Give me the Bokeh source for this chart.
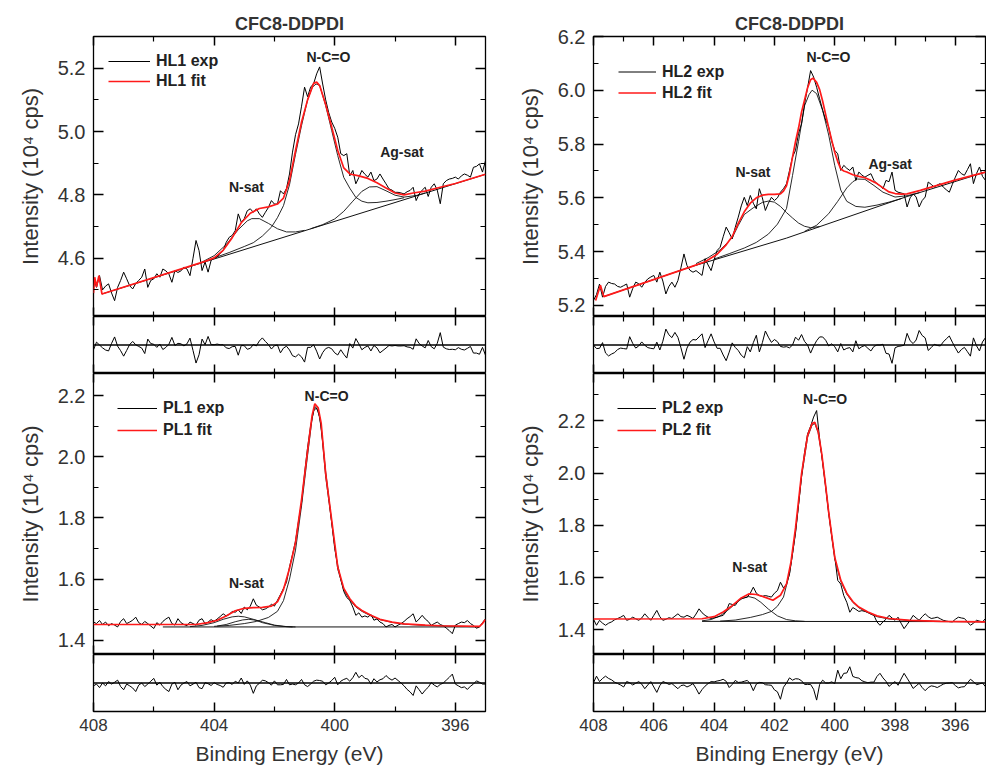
from bokeh.plotting import figure
from bokeh.layouts import column, row
from bokeh.models import (Range1d, FixedTicker, LinearAxis, Legend, LegendItem, Label, Span,
                          PrintfTickFormatter, CustomLabelingPolicy)
from bokeh.embed import file_html
from bokeh.resources import INLINE

FONT = "Liberation Sans"
GREY = "#333333"

# ---------------- data ----------------
BE = [408.0, 407.9, 407.8, 407.7, 407.6, 407.5, 407.4, 407.3, 407.2, 407.1,
      407.0, 406.9, 406.8, 406.7, 406.6, 406.5, 406.4, 406.3, 406.2, 406.1,
      406.0, 405.9, 405.8, 405.7, 405.6, 405.5, 405.4, 405.3, 405.2, 405.1,
      405.0, 404.9, 404.8, 404.7, 404.6, 404.5, 404.4, 404.3, 404.2, 404.1,
      404.0, 403.9, 403.8, 403.7, 403.6, 403.5, 403.4, 403.3, 403.2, 403.1,
      403.0, 402.9, 402.8, 402.7, 402.6, 402.5, 402.4, 402.3, 402.2, 402.1,
      402.0, 401.9, 401.8, 401.7, 401.6, 401.5, 401.4, 401.3, 401.2, 401.1,
      401.0, 400.9, 400.8, 400.7, 400.6, 400.5, 400.4, 400.3, 400.2, 400.1,
      400.0, 399.9, 399.8, 399.7, 399.6, 399.5, 399.4, 399.3, 399.2, 399.1,
      399.0, 398.9, 398.8, 398.7, 398.6, 398.5, 398.4, 398.3, 398.2, 398.1,
      398.0, 397.9, 397.8, 397.7, 397.6, 397.5, 397.4, 397.3, 397.2, 397.1,
      397.0, 396.9, 396.8, 396.7, 396.6, 396.5, 396.4, 396.3, 396.2, 396.1,
      396.0, 395.9, 395.8, 395.7, 395.6, 395.5, 395.4, 395.3, 395.2, 395.1,
      395.0]

# ---- HL1 (top left) ----
HL1_EXP = [4.540, 4.508, 4.545, 4.500, 4.512, 4.519, 4.490, 4.466, 4.508, 4.530,
           4.556, 4.535, 4.513, 4.503, 4.520, 4.530, 4.540, 4.566, 4.508, 4.530,
           4.535, 4.551, 4.540, 4.566, 4.560, 4.550, 4.524, 4.561, 4.555, 4.560,
           4.572, 4.566, 4.545, 4.600, 4.656, 4.624, 4.561, 4.588, 4.556, 4.593,
           4.600, 4.604, 4.615, 4.624, 4.650, 4.666, 4.672, 4.687, 4.740, 4.714,
           4.725, 4.750, 4.756, 4.745, 4.756, 4.740, 4.729, 4.745, 4.760, 4.782,
           4.771, 4.771, 4.813, 4.803, 4.820, 4.866, 4.935, 4.990, 5.024, 5.080,
           5.140, 5.110, 5.140, 5.151, 5.182, 5.204, 5.150, 5.100, 5.060, 5.030,
           5.010, 4.982, 4.930, 4.924, 4.930, 4.860, 4.877, 4.835, 4.855, 4.877,
           4.865, 4.856, 4.872, 4.845, 4.850, 4.866, 4.850, 4.835, 4.819, 4.815,
           4.808, 4.808, 4.806, 4.803, 4.810, 4.814, 4.824, 4.782, 4.803, 4.815,
           4.824, 4.795, 4.824, 4.835, 4.815, 4.772, 4.835, 4.845, 4.850, 4.852,
           4.856, 4.850, 4.860, 4.866, 4.862, 4.856, 4.887, 4.890, 4.898, 4.872,
           4.908]
HL1_RES = [-0.020, 0.012, 0.000, -0.012, -0.021, -0.025, 0.007, 0.034, -0.005, -0.024,
           -0.047, -0.023, 0.002, 0.015, 0.001, -0.006, -0.013, -0.036, 0.025, 0.006,
           0.003, -0.010, 0.004, -0.019, -0.010, 0.003, 0.032, -0.002, 0.007, 0.005,
           -0.004, 0.005, 0.029, -0.023, -0.076, -0.041, 0.025, 0.001, 0.036, 0.002,
           0.001, 0.004, 0.001, 0.001, -0.012, -0.015, -0.007, -0.006, -0.043, -0.002,
           -0.003, -0.018, -0.014, 0.002, -0.004, 0.017, 0.030, 0.015, 0.002, -0.017,
           -0.003, 0.000, -0.033, -0.013, -0.005, -0.021, -0.045, -0.050, -0.039, -0.050,
           -0.072, -0.010, -0.010, 0.001, -0.026, -0.059, -0.032, -0.015, -0.010, -0.016,
           -0.033, -0.042, -0.020, -0.039, -0.055, 0.006, -0.013, 0.027, 0.005, -0.020,
           -0.010, -0.004, -0.025, -0.002, -0.012, -0.033, -0.023, -0.013, -0.002, -0.004,
           -0.002, -0.004, -0.004, -0.003, -0.008, -0.010, -0.018, 0.026, 0.006, -0.004,
           -0.012, 0.019, -0.007, -0.016, 0.007, 0.052, -0.009, -0.016, -0.019, -0.018,
           -0.020, -0.011, -0.018, -0.021, -0.014, -0.006, -0.034, -0.034, -0.039, -0.010,
           -0.043]
HL1_FIT_X = [408.0, 407.96, 407.9, 407.82, 407.72, 404.3, 404.0, 403.7, 403.4, 403.1,
             402.8, 402.5, 402.2, 401.9, 401.7, 401.5, 401.3, 401.1, 400.9, 400.7,
             400.6, 400.5, 400.3, 400.1, 399.9, 399.7, 399.5, 399.2, 398.9, 398.6,
             398.3, 398.0, 397.7, 397.4, 397.0, 396.5, 396.0, 395.0]
HL1_FIT_Y = [4.490, 4.540, 4.510, 4.545, 4.487, 4.590, 4.601, 4.625, 4.665, 4.712,
             4.742, 4.757, 4.762, 4.771, 4.790, 4.845, 4.940, 5.030, 5.100, 5.152,
             5.156, 5.145, 5.085, 5.014, 4.940, 4.885, 4.866, 4.860, 4.852, 4.838,
             4.822, 4.806, 4.800, 4.806, 4.812, 4.824, 4.836, 4.865]
HL1_BG_X = [407.72, 395.0]
HL1_BG_Y = [4.487, 4.865]
HL1_NSAT_X = [404.4, 404.0, 403.6, 403.2, 402.9, 402.75, 402.5, 402.2, 401.9, 401.6, 401.3, 401.0]
HL1_NSAT_Y = [4.588, 4.608, 4.643, 4.690, 4.718, 4.725, 4.725, 4.710, 4.693, 4.683, 4.683, 4.688]
HL1_NCO_X = [404.0, 403.5, 403.0, 402.7, 402.4, 402.1, 401.9, 401.7, 401.5, 401.3,
             401.1, 400.9, 400.75, 400.62, 400.5, 400.3, 400.1, 399.9, 399.7, 399.5,
             399.3, 399.1, 398.9, 398.6, 398.3, 398.0, 397.7]
HL1_NCO_Y = [4.601, 4.618, 4.637, 4.649, 4.670, 4.698, 4.728, 4.766, 4.832, 4.928,
             5.019, 5.100, 5.139, 5.150, 5.146, 5.082, 5.003, 4.924, 4.855, 4.821,
             4.792, 4.780, 4.775, 4.776, 4.780, 4.785, 4.791]
HL1_AG_X = [400.8, 400.4, 400.0, 399.7, 399.4, 399.1, 398.85, 398.6, 398.3, 398.0, 397.7, 397.3, 397.0]
HL1_AG_Y = [4.693, 4.706, 4.724, 4.748, 4.780, 4.811, 4.825, 4.826, 4.813, 4.799, 4.793, 4.798, 4.806]

# ---- HL2 (top right) ----
HL2_EXP = [5.218, 5.240, 5.279, 5.230, 5.270, 5.286, 5.281, 5.279, 5.270, 5.267,
           5.273, 5.279, 5.230, 5.262, 5.286, 5.280, 5.267, 5.285, 5.298, 5.305,
           5.311, 5.286, 5.323, 5.290, 5.242, 5.270, 5.286, 5.267, 5.292, 5.340,
           5.391, 5.348, 5.330, 5.323, 5.329, 5.320, 5.311, 5.373, 5.350, 5.329,
           5.370, 5.404, 5.416, 5.455, 5.491, 5.470, 5.447, 5.490, 5.528, 5.570,
           5.602, 5.571, 5.609, 5.580, 5.559, 5.634, 5.600, 5.553, 5.580, 5.602,
           5.590, 5.600, 5.621, 5.634, 5.652, 5.702, 5.752, 5.777, 5.840, 5.876,
           5.950, 6.010, 6.074, 6.050, 6.012, 5.969, 5.926, 5.890, 5.864, 5.810,
           5.777, 5.764, 5.702, 5.721, 5.710, 5.702, 5.715, 5.665, 5.696, 5.685,
           5.677, 5.684, 5.690, 5.665, 5.653, 5.645, 5.634, 5.665, 5.660, 5.696,
           5.628, 5.621, 5.618, 5.615, 5.566, 5.600, 5.615, 5.603, 5.566, 5.590,
           5.603, 5.659, 5.650, 5.640, 5.648, 5.653, 5.640, 5.630, 5.621, 5.650,
           5.677, 5.702, 5.690, 5.684, 5.705, 5.727, 5.653, 5.690, 5.715, 5.680,
           5.665]
HL2_RES = [0.000, -0.015, -0.014, 0.010, -0.034, -0.046, -0.038, -0.032, -0.019, -0.013,
           -0.015, -0.017, 0.035, 0.007, -0.013, -0.004, 0.013, -0.001, -0.011, -0.014,
           -0.016, 0.012, -0.021, 0.016, 0.067, 0.043, 0.031, 0.053, 0.032, -0.012,
           -0.060, -0.013, 0.012, 0.023, 0.021, 0.034, 0.047, -0.011, 0.019, 0.047,
           0.013, -0.014, -0.014, -0.042, -0.066, -0.030, 0.009, -0.010, -0.023, -0.043,
           -0.054, -0.007, -0.029, 0.010, 0.041, -0.029, 0.010, 0.059, 0.033, 0.011,
           0.023, 0.014, -0.006, -0.009, -0.007, -0.012, 0.000, 0.033, 0.020, 0.044,
           0.015, 0.000, -0.034, -0.005, 0.018, 0.034, 0.034, 0.020, -0.004, 0.005,
           -0.007, -0.029, 0.006, -0.021, -0.014, -0.011, -0.029, 0.018, -0.016, -0.007,
           -0.002, -0.014, -0.025, -0.006, 0.000, 0.000, 0.003, -0.035, -0.038, -0.077,
           -0.012, -0.006, -0.004, -0.001, 0.049, 0.018, 0.006, 0.021, 0.061, 0.040,
           0.030, -0.023, -0.011, 0.003, -0.002, -0.004, 0.013, 0.026, 0.038, 0.012,
           -0.012, -0.034, -0.019, -0.010, -0.028, -0.047, 0.030, -0.003, -0.025, 0.013,
           0.031]
HL2_FIT_X = [407.93, 407.77, 407.66, 404.8, 404.3, 403.9, 403.6, 403.4, 403.2, 403.0,
             402.8, 402.6, 402.4, 402.2, 402.0, 401.8, 401.7, 401.6, 401.5, 401.4,
             401.3, 401.2, 401.1, 401.0, 400.9, 400.8, 400.72, 400.6, 400.5, 400.4,
             400.3, 400.2, 400.1, 400.0, 399.9, 399.8, 399.7, 399.6, 399.4, 399.2,
             399.0, 398.8, 398.6, 398.4, 398.2, 398.0, 397.8, 397.6, 397.16, 396.04,
             395.0]
HL2_FIT_Y = [5.218, 5.274, 5.232, 5.342, 5.362, 5.390, 5.425, 5.456, 5.505, 5.548,
             5.580, 5.600, 5.610, 5.613, 5.613, 5.615, 5.625, 5.645, 5.690, 5.752,
             5.810, 5.860, 5.920, 5.965, 6.010, 6.040, 6.046, 6.030, 6.003, 5.960,
             5.910, 5.860, 5.815, 5.770, 5.735, 5.708, 5.700, 5.696, 5.686, 5.680,
             5.675, 5.665, 5.653, 5.637, 5.622, 5.616, 5.614, 5.615, 5.628, 5.665,
             5.696]
HL2_BG_X = [407.66, 404.8, 401.6, 397.6, 395.0]
HL2_BG_Y = [5.232, 5.342, 5.450, 5.605, 5.696]
HL2_NSAT_X = [404.6, 404.2, 403.8, 403.4, 403.2, 403.0, 402.7, 402.4, 402.2, 402.0,
              401.8, 401.6, 401.4, 401.2, 401.0, 400.8, 400.5]
HL2_NSAT_Y = [5.355, 5.377, 5.406, 5.451, 5.497, 5.538, 5.563, 5.583, 5.588, 5.584,
              5.568, 5.545, 5.525, 5.506, 5.494, 5.489, 5.493]
HL2_NCO_X = [404.0, 403.5, 403.0, 402.6, 402.2, 401.9, 401.6, 401.4, 401.2, 401.0,
             400.85, 400.75, 400.6, 400.4, 400.2, 400.0, 399.8, 399.6, 399.3, 399.0,
             398.6, 398.2, 397.8]
HL2_NCO_Y = [5.372, 5.392, 5.413, 5.434, 5.465, 5.502, 5.560, 5.683, 5.810, 5.943,
             5.985, 6.001, 5.988, 5.926, 5.834, 5.721, 5.629, 5.587, 5.568, 5.565,
             5.573, 5.584, 5.597]
HL2_AG_X = [401.0, 400.6, 400.2, 399.9, 399.6, 399.4, 399.25, 399.0, 398.7, 398.4, 398.0, 397.6, 397.2]
HL2_AG_Y = [5.475, 5.498, 5.541, 5.587, 5.637, 5.660, 5.670, 5.669, 5.646, 5.621, 5.603, 5.608, 5.619]

# ---- PL1 (bottom left) ----
PL1_EXP = [1.460, 1.455, 1.465, 1.452, 1.460, 1.448, 1.455, 1.450, 1.444, 1.462,
           1.471, 1.455, 1.460, 1.466, 1.476, 1.458, 1.452, 1.462, 1.455, 1.447,
           1.439, 1.458, 1.450, 1.462, 1.470, 1.476, 1.455, 1.450, 1.471, 1.458,
           1.452, 1.448, 1.460, 1.455, 1.450, 1.466, 1.471, 1.455, 1.460, 1.468,
           1.462, 1.470, 1.478, 1.487, 1.480, 1.485, 1.495, 1.492, 1.500, 1.488,
           1.509, 1.500, 1.512, 1.536, 1.515, 1.509, 1.500, 1.503, 1.509, 1.518,
           1.512, 1.531, 1.550, 1.570, 1.590, 1.640, 1.680, 1.725, 1.790, 1.850,
           1.945, 2.030, 2.100, 2.150, 2.160, 2.130, 2.050, 1.950, 1.870, 1.785,
           1.700, 1.645, 1.600, 1.560, 1.540, 1.531, 1.509, 1.482, 1.490, 1.476,
           1.480, 1.476, 1.485, 1.466, 1.470, 1.460, 1.455, 1.444, 1.449, 1.452,
           1.444, 1.450, 1.455, 1.462, 1.471, 1.478, 1.487, 1.460, 1.470, 1.482,
           1.470, 1.462, 1.449, 1.455, 1.460, 1.452, 1.448, 1.440, 1.432, 1.422,
           1.450, 1.455, 1.460, 1.458, 1.465, 1.455, 1.449, 1.440, 1.444, 1.458,
           1.471]
PL1_RES = [-0.008, -0.003, -0.013, 0.000, -0.008, 0.004, -0.003, 0.002, 0.008, -0.010,
           -0.019, -0.003, -0.008, -0.014, -0.024, -0.006, 0.000, -0.010, -0.003, 0.005,
           0.013, -0.006, 0.002, -0.010, -0.018, -0.024, -0.003, 0.002, -0.019, -0.006,
           0.000, 0.004, -0.008, -0.003, 0.002, -0.013, -0.016, 0.001, -0.002, -0.007,
           0.001, -0.004, -0.007, -0.012, 0.000, 0.001, -0.004, 0.005, 0.000, 0.014,
           -0.004, 0.006, -0.006, -0.029, -0.008, -0.001, 0.008, 0.006, 0.001, -0.006,
           0.006, -0.005, -0.005, -0.004, 0.010, -0.005, -0.003, -0.005, 0.000, 0.010,
           -0.005, -0.010, -0.003, 0.005, 0.008, 0.007, 0.005, -0.005, 0.000, 0.007,
           0.016, -0.005, 0.005, 0.010, 0.013, 0.005, 0.015, 0.030, 0.015, 0.022,
           0.013, 0.011, -0.003, 0.012, 0.003, 0.009, 0.012, 0.021, 0.013, 0.008,
           0.014, 0.007, 0.000, -0.008, -0.018, -0.025, -0.035, -0.008, -0.019, -0.031,
           -0.020, -0.012, 0.001, -0.006, -0.011, -0.004, 0.000, 0.008, 0.016, 0.025,
           -0.003, -0.008, -0.013, -0.011, -0.018, -0.009, -0.003, 0.006, 0.002, -0.003,
           -0.003]
PL1_FIT_X = [408.0, 404.6, 404.2, 403.9, 403.6, 403.3, 403.0, 402.7, 402.4, 402.1,
             401.9, 401.7, 401.5, 401.3, 401.1, 400.9, 400.75, 400.66, 400.55, 400.45,
             400.3, 400.1, 399.9, 399.7, 399.5, 399.3, 399.1, 398.8, 398.5, 398.1,
             397.7, 397.0, 396.5, 395.2, 395.1, 395.0]
PL1_FIT_Y = [1.452, 1.452, 1.458, 1.466, 1.480, 1.497, 1.505, 1.507, 1.508, 1.512,
             1.526, 1.566, 1.635, 1.720, 1.860, 2.020, 2.135, 2.173, 2.160, 2.110,
             1.945, 1.792, 1.640, 1.570, 1.536, 1.512, 1.498, 1.482, 1.469, 1.460,
             1.454, 1.450, 1.448, 1.446, 1.455, 1.468]
PL1_BG_X = [405.7, 395.2]
PL1_BG_Y = [1.444, 1.444]
PL1_NCO_X = [404.0, 403.5, 403.0, 402.6, 402.2, 401.9, 401.7, 401.5, 401.3, 401.1,
             400.9, 400.75, 400.66, 400.55, 400.45, 400.3, 400.1, 399.9, 399.7, 399.5,
             399.3, 399.1, 398.8, 398.5, 398.1, 397.7, 397.0, 396.0, 395.2]
PL1_NCO_Y = [1.446, 1.449, 1.455, 1.462, 1.475, 1.495, 1.530, 1.600, 1.695, 1.840,
             2.005, 2.125, 2.165, 2.150, 2.100, 1.935, 1.785, 1.633, 1.565, 1.532,
             1.509, 1.495, 1.480, 1.468, 1.459, 1.453, 1.449, 1.446, 1.445]
PL1_NSATA_X = [404.8, 404.4, 404.0, 403.7, 403.4, 403.2, 403.0, 402.7, 402.4, 402.0, 401.6, 401.3]
PL1_NSATA_Y = [1.445, 1.449, 1.458, 1.469, 1.477, 1.479, 1.477, 1.469, 1.458, 1.449, 1.445, 1.444]
PL1_NSATB_X = [403.9, 403.6, 403.3, 403.05, 402.85, 402.6, 402.3, 402.0, 401.7, 401.4]
PL1_NSATB_Y = [1.447, 1.452, 1.461, 1.467, 1.469, 1.466, 1.458, 1.450, 1.446, 1.444]

# ---- PL2 (bottom right) ----
PL2_EXP = [1.440, 1.417, 1.436, 1.425, 1.417, 1.425, 1.430, 1.438, 1.443, 1.448,
           1.455, 1.436, 1.440, 1.448, 1.442, 1.436, 1.445, 1.461, 1.448, 1.436,
           1.455, 1.474, 1.450, 1.436, 1.440, 1.446, 1.443, 1.452, 1.461, 1.450,
           1.448, 1.455, 1.450, 1.443, 1.460, 1.480, 1.465, 1.455, 1.448, 1.443,
           1.446, 1.448, 1.452, 1.455, 1.470, 1.500, 1.497, 1.493, 1.510, 1.519,
           1.522, 1.525, 1.540, 1.563, 1.540, 1.531, 1.528, 1.531, 1.528, 1.525,
           1.540, 1.550, 1.582, 1.560, 1.575, 1.614, 1.690, 1.775, 1.880, 1.990,
           2.080, 2.150, 2.180, 2.215, 2.240, 2.130, 2.040, 1.950, 1.850, 1.760,
           1.680, 1.589, 1.575, 1.531, 1.505, 1.467, 1.485, 1.478, 1.470, 1.473,
           1.470, 1.467, 1.460, 1.455, 1.430, 1.417, 1.430, 1.440, 1.455, 1.445,
           1.436, 1.448, 1.425, 1.404, 1.420, 1.436, 1.455, 1.445, 1.436, 1.450,
           1.461, 1.450, 1.443, 1.445, 1.448, 1.442, 1.436, 1.433, 1.431, 1.430,
           1.440, 1.448, 1.445, 1.443, 1.430, 1.417, 1.425, 1.436, 1.433, 1.430,
           1.443]
PL2_RES = [0.001, 0.024, 0.005, 0.016, 0.024, 0.016, 0.011, 0.003, -0.002, -0.007,
           -0.014, 0.005, 0.001, -0.007, -0.001, 0.005, -0.004, -0.020, -0.007, 0.005,
           -0.014, -0.033, -0.009, 0.005, 0.001, -0.005, -0.002, -0.011, -0.020, -0.009,
           -0.007, -0.014, -0.009, -0.002, -0.019, -0.039, -0.023, -0.011, -0.002, 0.005,
           0.004, 0.007, 0.009, 0.013, 0.006, -0.016, -0.005, 0.009, 0.002, 0.003,
           0.006, 0.009, -0.003, -0.027, -0.004, 0.002, 0.001, -0.006, -0.007, -0.008,
           -0.024, -0.031, -0.057, -0.015, 0.000, 0.018, 0.010, 0.015, 0.014, 0.008,
           -0.005, -0.005, -0.005, -0.022, -0.060, -0.005, 0.010, 0.000, 0.000, 0.004,
           -0.002, 0.045, 0.015, 0.034, 0.035, 0.057, 0.023, 0.019, 0.017, 0.008,
           0.004, 0.001, 0.003, 0.003, 0.023, 0.034, 0.018, 0.006, -0.012, -0.003,
           0.005, -0.008, 0.014, 0.034, 0.017, 0.000, -0.019, -0.010, -0.001, -0.016,
           -0.027, -0.016, -0.010, -0.012, -0.016, -0.010, -0.004, -0.001, 0.000, 0.001,
           -0.009, -0.017, -0.014, -0.013, 0.000, 0.013, 0.005, -0.006, -0.003, 0.000,
           -0.013]
PL2_FIT_X = [408.0, 404.4, 404.0, 403.7, 403.4, 403.1, 402.85, 402.6, 402.3, 402.05,
             401.8, 401.6, 401.45, 401.3, 401.1, 400.9, 400.75, 400.66, 400.55, 400.43,
             400.3, 400.2, 400.0, 399.8, 399.6, 399.4, 399.2, 398.9, 398.6, 398.2,
             397.5, 396.5, 395.0]
PL2_FIT_Y = [1.441, 1.442, 1.450, 1.468, 1.492, 1.522, 1.537, 1.535, 1.524, 1.513,
             1.532, 1.575, 1.660, 1.790, 1.998, 2.145, 2.190, 2.195, 2.160, 2.074,
             1.950, 1.850, 1.678, 1.590, 1.540, 1.508, 1.487, 1.468, 1.453, 1.443,
             1.436, 1.432, 1.430]
PL2_BG_X = [404.4, 395.0]
PL2_BG_Y = [1.432, 1.431]
PL2_NCO_X = [403.8, 403.3, 402.8, 402.4, 402.1, 401.9, 401.7, 401.5, 401.3, 401.1,
             400.9, 400.75, 400.66, 400.55, 400.43, 400.3, 400.2, 400.0, 399.8, 399.6,
             399.4, 399.2, 398.9, 398.6, 398.2, 397.5, 396.5, 395.0]
PL2_NCO_Y = [1.433, 1.437, 1.447, 1.458, 1.470, 1.490, 1.525, 1.615, 1.770, 1.985,
             2.138, 2.185, 2.190, 2.155, 2.070, 1.945, 1.845, 1.672, 1.585, 1.536,
             1.505, 1.484, 1.465, 1.450, 1.441, 1.435, 1.432, 1.430]
PL2_NSAT_X = [404.4, 404.1, 403.8, 403.5, 403.25, 403.05, 402.85, 402.65, 402.45, 402.2,
              401.9, 401.6, 401.3, 401.0]
PL2_NSAT_Y = [1.434, 1.439, 1.453, 1.479, 1.505, 1.521, 1.527, 1.521, 1.505, 1.479,
              1.453, 1.439, 1.434, 1.432]

# tick values
X_MAJOR_L = [408, 404, 400, 396]
X_MINOR_L = [406, 402, 398]
X_MAJOR_R = [408, 406, 404, 402, 400, 398, 396]
X_MINOR_R = [407, 405, 403, 401, 399, 397]

# ---------------- layout constants ----------------
L_BL, L_FW, L_BR = 93, 392, 8
R_BL, R_FW, R_BR = 100, 392, 1
TOP_B, MAIN_H1, RES_H, MAIN_H2, BOT_B = 36, 280, 57, 281, 60

NO_LABELS = "return []"


def style_ticks(ax):
    ax.axis_line_color = None
    ax.major_tick_in = 9
    ax.major_tick_out = 0
    ax.minor_tick_in = 5
    ax.minor_tick_out = 0
    ax.major_tick_line_color = "black"
    ax.minor_tick_line_color = "black"
    ax.major_tick_line_width = 1.5
    ax.minor_tick_line_width = 1.2


def hide_labels(ax):
    ax.major_label_text_font_size = "0px"
    ax.major_label_standoff = 0
    ax.major_label_policy = CustomLabelingPolicy(code=NO_LABELS)


def add_x_axes(p, major, minor, labelled):
    ticker = FixedTicker(ticks=major, minor_ticks=minor)
    for loc in ("above", "below"):
        ax = LinearAxis(ticker=ticker)
        style_ticks(ax)
        if loc == "below" and labelled:
            ax.major_label_text_font = FONT
            ax.major_label_text_font_size = "17px"
            ax.major_label_text_color = GREY
            ax.major_label_standoff = 7
            ax.axis_label = "Binding Energy (eV)"
            ax.axis_label_text_font = FONT
            ax.axis_label_text_font_size = "21px"
            ax.axis_label_text_font_style = "normal"
            ax.axis_label_text_color = GREY
            ax.axis_label_standoff = 8
        else:
            hide_labels(ax)
        p.add_layout(ax, loc)


def add_y_axes(p, major, minor):
    ticker = FixedTicker(ticks=major, minor_ticks=minor)
    ax = LinearAxis(ticker=ticker, formatter=PrintfTickFormatter(format="%.1f"))
    style_ticks(ax)
    ax.major_tick_in = 10
    ax.major_label_text_font = FONT
    ax.major_label_text_font_size = "20px"
    ax.major_label_text_color = GREY
    ax.major_label_standoff = 8
    ax.axis_label = "Intensity (10\u2074 cps)"
    ax.axis_label_text_font = FONT
    ax.axis_label_text_font_size = "22px"
    ax.axis_label_text_font_style = "normal"
    ax.axis_label_text_color = GREY
    ax.axis_label_standoff = 12
    p.add_layout(ax, "left")
    ax2 = LinearAxis(ticker=ticker)
    style_ticks(ax2)
    ax2.major_tick_in = 10
    hide_labels(ax2)
    p.add_layout(ax2, "right")


def base_fig(xr, yr, w, h, bl, br, bt, bb, title=None):
    kw = dict(width=w, height=h, x_range=xr, y_range=yr, output_backend="svg",
              toolbar_location=None, x_axis_type=None, y_axis_type=None,
              min_border_left=bl, min_border_right=br, min_border_top=bt,
              min_border_bottom=bb)
    if title:
        kw["title"] = title
    p = figure(**kw)
    p.outline_line_color = "black"
    p.outline_line_width = 1.3
    p.background_fill_color = "white"
    if title:
        p.title.align = "center"
        p.title.text_font = FONT
        p.title.text_font_size = "18px"
        p.title.text_font_style = "bold"
        p.title.text_color = GREY
        p.title.standoff = 6
    return p


def main_panel(xr, y_lo, y_hi, y_major, y_minor, x_major, x_minor, left, w_frame, right,
               h, top, title, data, legend_names, legend_margin, row_h, glyph_w, labels):
    p = base_fig(xr, Range1d(y_lo, y_hi), left + w_frame + right, h, left, right, top, 0, title)
    add_x_axes(p, x_major, x_minor, False)
    add_y_axes(p, y_major, y_minor)
    exp_y, fit_x, fit_y, bg_x, bg_y, comps = data
    p.line(bg_x, bg_y, line_color="#111111", line_width=1.0)
    for cx, cy in comps:
        p.line(cx, cy, line_color="#111111", line_width=0.9)
    r_exp = p.line(BE, exp_y, line_color="black", line_width=1.0)
    r_fit = p.line(fit_x, fit_y, line_color="#ff1a1a", line_width=1.7)
    leg = Legend(items=[LegendItem(label=legend_names[0], renderers=[r_exp]),
                        LegendItem(label=legend_names[1], renderers=[r_fit])],
                 location="top_left", margin=legend_margin, padding=0, spacing=0,
                 glyph_width=glyph_w, glyph_height=row_h, label_height=row_h,
                 label_standoff=6, border_line_color=None, background_fill_alpha=0,
                 label_text_font=FONT, label_text_font_style="bold",
                 label_text_font_size="16px", label_text_color="#222222")
    p.add_layout(leg)
    for txt, lx, ly in labels:
        p.add_layout(Label(x=lx, y=ly, text=txt, text_align="center", text_baseline="middle",
                           text_font=FONT, text_font_style="bold", text_font_size="14px",
                           text_color="#222222"))
    return p


def res_panel(xr, res, lim, x_major, x_minor, left, w_frame, right, h, bottom, labelled):
    p = base_fig(xr, Range1d(-lim, lim), left + w_frame + right, h, left, right, 0, bottom)
    add_x_axes(p, x_major, x_minor, labelled)
    p.add_layout(Span(location=0, dimension="width", line_color="black", line_width=1.3))
    p.line(BE, res, line_color="black", line_width=1.0)
    return p


xr_l = Range1d(408, 395)
xr_r = Range1d(408, 395)

tl = main_panel(xr_l, 4.416, 5.300, [4.6, 4.8, 5.0, 5.2], [4.5, 4.7, 4.9, 5.1],
                X_MAJOR_L, X_MINOR_L, L_BL, L_FW, L_BR, TOP_B + MAIN_H1, TOP_B, "CFC8-DDPDI",
                (HL1_EXP, HL1_FIT_X, HL1_FIT_Y, HL1_BG_X, HL1_BG_Y,
                 [(HL1_NSAT_X, HL1_NSAT_Y), (HL1_NCO_X, HL1_NCO_Y), (HL1_AG_X, HL1_AG_Y)]),
                ("HL1 exp", "HL1 fit"), 15, 20, 42,
                [("N-C=O", 400.21, 5.235), ("N-sat", 402.93, 4.824), ("Ag-sat", 397.77, 4.935)])
tl_res = res_panel(xr_l, HL1_RES, 0.12, X_MAJOR_L, X_MINOR_L, L_BL, L_FW, L_BR, RES_H, 0, False)

bl = main_panel(xr_l, 1.354, 2.272, [1.4, 1.6, 1.8, 2.0, 2.2], [1.5, 1.7, 1.9, 2.1],
                X_MAJOR_L, X_MINOR_L, L_BL, L_FW, L_BR, MAIN_H2, 0, None,
                (PL1_EXP, PL1_FIT_X, PL1_FIT_Y, PL1_BG_X, PL1_BG_Y,
                 [(PL1_NSATA_X, PL1_NSATA_Y), (PL1_NSATB_X, PL1_NSATB_Y), (PL1_NCO_X, PL1_NCO_Y)]),
                ("PL1 exp", "PL1 fit"), 24, 22, 40,
                [("N-C=O", 400.27, 2.200), ("N-sat", 402.93, 1.587)])
bl_res = res_panel(xr_l, PL1_RES, 0.08, X_MAJOR_L, X_MINOR_L, L_BL, L_FW, L_BR,
                   RES_H + BOT_B, BOT_B, True)

tr = main_panel(xr_r, 5.158, 6.201, [5.2, 5.4, 5.6, 5.8, 6.0, 6.2], [5.3, 5.5, 5.7, 5.9, 6.1],
                X_MAJOR_R, X_MINOR_R, R_BL, R_FW, R_BR, TOP_B + MAIN_H1, TOP_B, "CFC8-DDPDI",
                (HL2_EXP, HL2_FIT_X, HL2_FIT_Y, HL2_BG_X, HL2_BG_Y,
                 [(HL2_NSAT_X, HL2_NSAT_Y), (HL2_NCO_X, HL2_NCO_Y), (HL2_AG_X, HL2_AG_Y)]),
                ("HL2 exp", "HL2 fit"), 25, 21, 38,
                [("N-C=O", 400.21, 6.124), ("N-sat", 402.71, 5.696), ("Ag-sat", 398.16, 5.727)])
tr_res = res_panel(xr_r, HL2_RES, 0.12, X_MAJOR_R, X_MINOR_R, R_BL, R_FW, R_BR, RES_H, 0, False)

br = main_panel(xr_r, 1.305, 2.382, [1.4, 1.6, 1.8, 2.0, 2.2], [1.5, 1.7, 1.9, 2.1, 2.3],
                X_MAJOR_R, X_MINOR_R, R_BL, R_FW, R_BR, MAIN_H2, 0, None,
                (PL2_EXP, PL2_FIT_X, PL2_FIT_Y, PL2_BG_X, PL2_BG_Y,
                 [(PL2_NSAT_X, PL2_NSAT_Y), (PL2_NCO_X, PL2_NCO_Y)]),
                ("PL2 exp", "PL2 fit"), 24, 22, 39,
                [("N-C=O", 400.32, 2.285), ("N-sat", 402.82, 1.640)])
br_res = res_panel(xr_r, PL2_RES, 0.10, X_MAJOR_R, X_MINOR_R, R_BL, R_FW, R_BR,
                   RES_H + BOT_B, BOT_B, True)

layout = row(column(tl, tl_res, bl, bl_res, spacing=0),
             column(tr, tr_res, br, br_res, spacing=0), spacing=0)

with open("out.html", "w") as f:
    f.write(file_html(layout, INLINE, title="CFC8-DDPDI"))
